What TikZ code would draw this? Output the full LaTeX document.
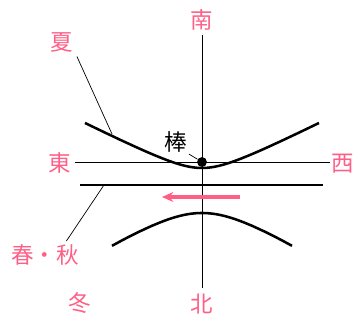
\documentclass[tikz,border=0pt]{standalone}
\usepackage{fontspec}
\newfontfamily\jpfont{Noto Sans CJK JP}
\usepackage{tikz}
\usetikzlibrary{positioning, arrows.meta}
\definecolor{seasonpink}{RGB}{255,95,135}

\begin{document}
\begin{tikzpicture}[x=0.025cm, y=-0.025cm,
  dir/.style={text=seasonpink, font=\jpfont\fontsize{16}{16}\selectfont, inner sep=1pt},
  season/.style={text=seasonpink, font=\jpfont\fontsize{16}{16}\selectfont, inner sep=1pt},
  axis/.style={line width=0.6pt},
  curve/.style={line width=1.8pt},
  leader/.style={line width=0.5pt},
  motion/.style={-{Stealth[length=8pt,width=7pt]}, seasonpink, line width=2.2pt}
]
\useasboundingbox (0,0) rectangle (358,327);

% compass
\node[dir] (south) at (202,20)  {南};
\node[dir] (north) at (202,304) {北};
\node[dir] (east)  at (60,163)  {東};
\node[dir] (west)  at (343,164) {西};
\coordinate (ntop) at (202,35);
\coordinate (nbot) at (202,288);
\coordinate (eend) at (75,162);
\coordinate (wend) at (330,162);
\draw[axis] (ntop) -- (nbot);
\draw[axis] (eend) -- (wend);

% stick
\node[circle, fill, inner sep=0pt, minimum size=7pt] (pole) at (202,162) {};
\node[font=\jpfont\fontsize{16}{16}\selectfont, inner sep=1pt] (polelabel) at (176,142) {棒};
\draw[leader] (polelabel.south east) -- (pole);

% shadow paths
\draw[curve] plot[domain=-117:117, samples=60] ({202+\x},{168-0.5*(veclen(\x,31)-31)});
\coordinate (summerpt) at (112,134);
\draw[curve] (80,185) -- (323,185);
\coordinate (equinoxpt) at (104,185);
\draw[curve] plot[domain=-90:90, samples=60] ({202+\x},{213+0.62*(veclen(\x,50)-50)});

% direction of motion
\coordinate (mstart) at (240,197);
\coordinate (mend) at (162,197);
\draw[motion] (mstart) -- (mend);

% seasons
\node[season] (summer)  at (62,42)  {夏};
\node[season] (equinox) at (45,255) {春・秋};
\node[season] (winter)  at (80,303) {冬};
\draw[leader] (summer.south east) ++(2,3) -- (summerpt);
\draw[leader] (equinox.north east) ++(-14,-2) -- (equinoxpt);
\end{tikzpicture}
\end{document}
